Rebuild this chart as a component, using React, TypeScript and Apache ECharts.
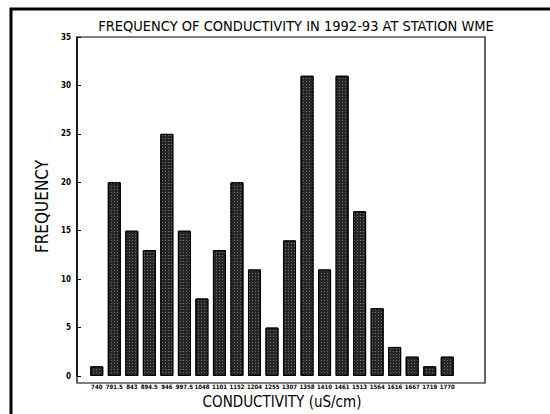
import React, { useEffect, useRef } from "react";
import * as echarts from "echarts";

const categories = ["740", "791.5", "843", "894.5", "946", "997.5", "1048", "1101", "1152", "1204", "1255", "1307", "1358", "1410", "1461", "1513", "1564", "1616", "1667", "1719", "1770"];
const frequency = [1, 20, 15, 13, 25, 15, 8, 13, 20, 11, 5, 14, 31, 11, 31, 17, 7, 3, 2, 1, 2];
const yTicks = [0, 5, 10, 15, 20, 25, 30, 35];

const FONT = "'Liberation Sans Narrow', 'DejaVu Sans Condensed', 'Liberation Sans', sans-serif";

export default function App() {
  const ref = useRef<HTMLDivElement>(null);
  useEffect(() => {
    if (!ref.current) return;
    const chart = echarts.init(ref.current, null, { renderer: "svg" });
    chart.setOption({
      animation: false,
      backgroundColor: "#ffffff",
      title: {
        text: "FREQUENCY OF CONDUCTIVITY IN 1992-93 AT STATION WME",
        left: 291,
        top: 13,
        textAlign: "center",
        textStyle: { fontFamily: FONT, fontSize: 14.5, fontWeight: "normal", color: "#000" },
      },
      grid: { left: 88, right: 94, top: 37, bottom: 31 },
      xAxis: {
        type: "category",
        data: categories,
        axisLine: { show: false },
        axisTick: { show: false },
        axisLabel: { fontFamily: FONT, fontSize: 6, fontWeight: "bold", color: "#000", interval: 0, margin: 7 },
        name: "CONDUCTIVITY (uS/cm)",
        nameLocation: "middle",
        nameGap: 18,
        nameTextStyle: { fontFamily: FONT, fontSize: 15, color: "#000", padding: [0, 0, 0, 20] },
      },
      yAxis: {
        type: "value",
        min: 0,
        max: 35,
        interval: 5,
        offset: 11,
        axisLine: { show: true, lineStyle: { color: "#000", width: 1.5 } },
        axisTick: { show: true, inside: true, length: 4, lineStyle: { color: "#000" } },
        splitLine: { show: false },
        axisLabel: {
          fontFamily: FONT,
          fontSize: 8,
          fontWeight: "bold",
          color: "#000",
          margin: 6,
          formatter: (v: number) => (yTicks.includes(v) ? String(v) : ""),
        },
        name: "FREQUENCY",
        nameLocation: "middle",
        nameGap: 26,
        nameTextStyle: { fontFamily: FONT, fontSize: 17, color: "#000" },
      },
      series: [
        {
          type: "bar",
          data: frequency,
          barWidth: 13,
          itemStyle: {
            color: "#262626",
            borderColor: "#000",
            borderWidth: 1,
            decal: {
              symbol: "rect",
              symbolSize: 1,
              dashArrayX: [1, 2],
              dashArrayY: [1, 2],
              color: "rgba(255,255,255,0.35)",
            },
          },
        },
      ],
      graphic: [
        {
          type: "rect",
          shape: { x: 11, y: 9, width: 560, height: 430 },
          style: { fill: "none", stroke: "#000", lineWidth: 3 },
          silent: true,
        },
        {
          type: "rect",
          shape: { x: 77, y: 37, width: 408, height: 346 },
          style: { fill: "none", stroke: "#000", lineWidth: 1.2 },
          silent: true,
        },
      ],
    });
    return () => chart.dispose();
  }, []);
  return <div ref={ref} style={{ position: "fixed", left: 0, top: 0, width: 550, height: 414 }} />;
}
